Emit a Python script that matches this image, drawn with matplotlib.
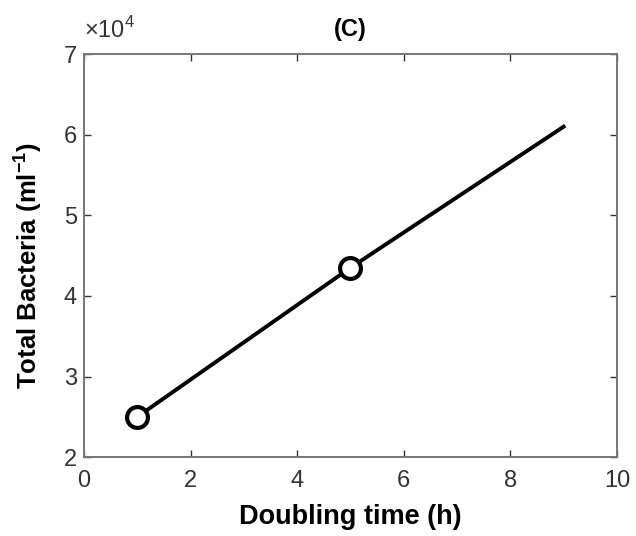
import matplotlib
matplotlib.use("Agg")
import matplotlib.pyplot as plt
from matplotlib.ticker import FuncFormatter

plt.rcParams['font.family'] = ['Liberation Sans', 'DejaVu Sans']
plt.rcParams['mathtext.fontset'] = 'custom'
plt.rcParams['mathtext.rm'] = 'Liberation Sans'
plt.rcParams['mathtext.bf'] = 'Liberation Sans:bold'

# Model output: total bacteria vs. doubling time
doubling_time = [1, 5, 9]
total_bacteria = [2.5e4, 4.35e4, 6.1e4]
marked_points = [0, 1]

x_ticks = [0, 2, 4, 6, 8, 10]
y_ticks = [2e4, 3e4, 4e4, 5e4, 6e4, 7e4]
y_scale = 1e4

fig = plt.figure(figsize=(6.36, 5.36), dpi=100)
ax = fig.add_axes([0.132, 0.147, 0.838, 0.752])

ax.plot(doubling_time, total_bacteria, color='black', linewidth=2.8,
        marker='o', markevery=marked_points, markersize=15,
        markerfacecolor='white', markeredgecolor='black', markeredgewidth=3)

ax.set_xlim(0, 10)
ax.set_ylim(2e4, 7e4)
ax.set_xticks(x_ticks)
ax.set_yticks(y_ticks)
ax.yaxis.set_major_formatter(FuncFormatter(lambda v, _: f'{v / y_scale:g}'))
ax.text(0.0, 1.027, r'$\times10^{4}$', transform=ax.transAxes,
        fontsize=17, color='#333333', ha='left', va='bottom')

ax.tick_params(direction='in', top=True, right=True, length=5, width=1,
               labelsize=17, colors='#333333')
ax.tick_params(axis='x', pad=9)
ax.tick_params(axis='y', pad=5)
for s in ax.spines.values():
    s.set_color('#777777')
    s.set_linewidth(1.4)

ax.set_xlabel('Doubling time (h)', fontsize=19.5, fontweight='bold', labelpad=9)
ax.set_ylabel('Total Bacteria (ml$^{\\mathbf{-1}}$)', fontsize=18.5, fontweight='bold')
ax.yaxis.set_label_coords(-0.075, 0.476)
ax.set_title('(C)', fontsize=17, fontweight='bold', pad=13)

fig.savefig('out.png', dpi=100)
